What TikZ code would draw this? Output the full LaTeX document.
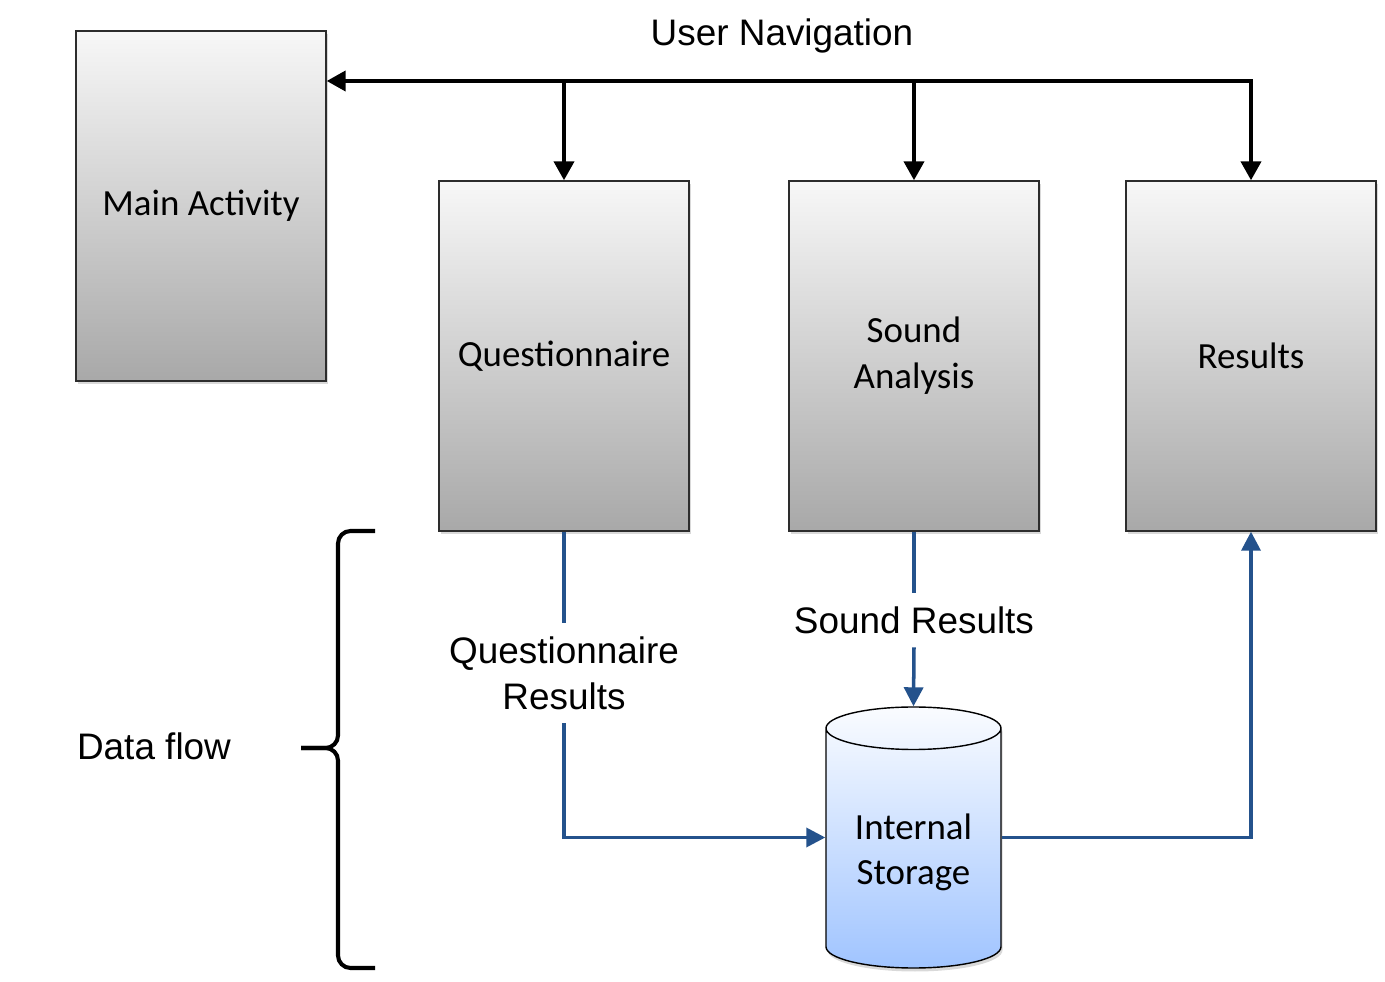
\documentclass[tikz,border=0pt]{standalone}
\usepackage{fontspec}
\setmainfont{Liberation Sans}
\newfontfamily\boxfont{Carlito}
\usetikzlibrary{arrows.meta,shapes.geometric,shadows}
\definecolor{flowblue}{RGB}{36,82,140}
\definecolor{boxedge}{RGB}{45,45,45}
\definecolor{storetop}{RGB}{250,252,255}
\definecolor{storebot}{RGB}{160,196,255}

\begin{document}
\begin{tikzpicture}[
    every node/.style={font=\fontsize{21}{26}\selectfont},
    screen/.style={draw=boxedge, line width=0.8pt, minimum width=5cm,
      minimum height=7cm, top color=black!3, bottom color=black!34,
      align=center, font=\boxfont\fontsize{21}{26}\selectfont,
      drop shadow={shadow xshift=0.03cm, shadow yshift=-0.07cm, opacity=0.3}},
    store/.style={cylinder, shape border rotate=90, aspect=0.33,
      draw=black, line width=0.8pt, minimum width=3.5cm, minimum height=5.22cm,
      top color=storetop, bottom color=storebot, align=center,
      font=\boxfont\fontsize{21}{26}\selectfont,
      drop shadow={shadow xshift=0.03cm, shadow yshift=-0.07cm, opacity=0.3}},
    flowlbl/.style={align=center, inner xsep=0.1cm, inner ysep=0.27cm},
    navline/.style={line width=2.3pt, -{Triangle[length=0.38cm,width=0.4cm]}},
    flowline/.style={draw=flowblue, line width=2pt},
    flowarrow/.style={flowline, -{Triangle[length=0.38cm,width=0.38cm]}},
    bracepart/.style={line width=2.3pt, rounded corners=0.25cm}]

  \useasboundingbox (0,0) rectangle (27.7,19.62);

  \draw
  (4.02,15.5) node [screen] (main) {Main Activity}
  (11.28,12.5) node [screen] (qst) {Questionnaire}
  (18.28,12.5) node [screen] (snd) {Sound\\Analysis}
  (25.02,12.5) node [screen] (res) {Results}
  (18.27,2.87) node [store, anchor=shape center] (stor) {Internal\\Storage}

  (15.64,18.9) node (navlbl) {User Navigation}
  (11.28,6.16) node [flowlbl] (qres) {Questionnaire\\Results}
  (18.28,7.22) node [flowlbl] (sres) {Sound Results}
  (3.08,4.7) node (dflow) {Data flow};

  \coordinate (nav) at (0,18);

  \draw[navline, {Triangle[length=0.38cm,width=0.4cm]}-{Triangle[length=0.38cm,width=0.4cm]}]
    (main.east |- nav) -- (res.north |- nav) -- (res.north);
  \draw[navline] (qst.north |- nav) -- (qst.north);
  \draw[navline] (snd.north |- nav) -- (snd.north);

  \draw[flowline] (qst.south) -- (qres.north);
  \draw[flowarrow] (qres.south) |- (stor.west |- stor.shape center);
  \draw[flowline] (snd.south) -- (sres.north);
  \draw[flowarrow] (sres.south) -- (stor.north);
  \draw[flowarrow] (stor.east |- stor.shape center) -| (res.south);

  \draw[bracepart] (7.5,9.0) -- (6.76,9.0) -- (6.76,4.66) -- (6.02,4.66);
  \draw[bracepart] (7.5,0.26) -- (6.76,0.26) -- (6.76,4.66) -- (6.02,4.66);
\end{tikzpicture}
\end{document}
